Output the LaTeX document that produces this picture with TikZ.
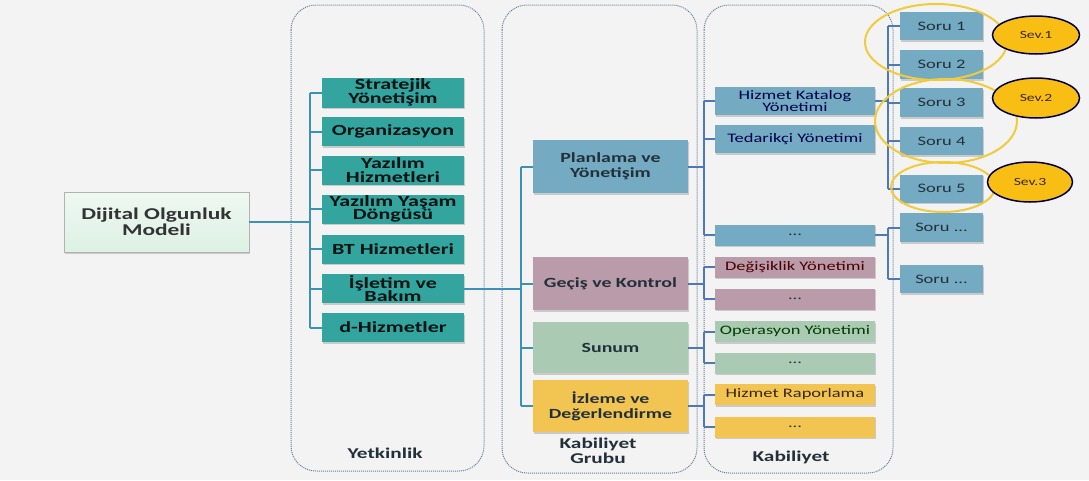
\documentclass[tikz,border=0pt]{standalone}
\usepackage{fontspec}
\setmainfont{Carlito}[FakeStretch=1.42]
\usetikzlibrary{shapes.geometric,shadows}
\definecolor{bgc}{HTML}{F3F3F3}
\definecolor{teal1}{HTML}{33A59E}
\definecolor{blue1}{HTML}{74AAC2}
\definecolor{mauve1}{HTML}{B99BAA}
\definecolor{green1}{HTML}{AACAB3}
\definecolor{gold1}{HTML}{F2C552}
\definecolor{conn1}{HTML}{3C92B6}
\definecolor{conn2}{HTML}{4E78B6}
\definecolor{colborder}{HTML}{6A7A98}
\definecolor{ring}{HTML}{F0CB3C}
\definecolor{sevfill}{HTML}{F8BE14}
\definecolor{txt}{HTML}{22303A}
\definecolor{mint}{HTML}{DDF1E4}
\begin{document}
\begin{tikzpicture}[x=1pt,y=-1pt,
  column/.style={draw=colborder,line width=1pt,dash pattern=on 1pt off 1pt,rounded corners=25pt},
  basebox/.style={rectangle,draw=none,inner sep=1pt,align=center,text=txt,
    drop shadow={shadow xshift=1.2pt,shadow yshift=-1.5pt,opacity=0.35}},
  tealbox/.style={basebox,fill=teal1,minimum width=142pt,minimum height=29pt,
    font=\bfseries\fontsize{15.5}{13.5}\selectfont,text=black!85!teal},
  grpbox/.style={basebox,fill=#1,minimum width=155pt,minimum height=53pt,
    font=\bfseries\fontsize{14}{15}\selectfont},
  capbox/.style={basebox,fill=#1,minimum width=160pt,minimum height=21pt,
    font=\fontsize{13}{12}\selectfont},
  sorubox/.style={basebox,fill=blue1,minimum width=83pt,minimum height=28pt,
    font=\fontsize{13}{12}\selectfont},
  conna/.style={draw=conn1,line width=2pt},
  connb/.style={draw=conn2,line width=2pt},
  lbl/.style={font=\bfseries\fontsize{15}{15}\selectfont,text=txt,align=center},
  ringst/.style={draw=ring,line width=2pt},
  sev/.style={ellipse,draw=black!75!blue,line width=1.5pt,fill=sevfill,
    minimum width=87pt,minimum height=38pt,inner sep=0pt,
    font=\fontsize{11}{11}\selectfont,text=black!70!brown}
]
\useasboundingbox (0,0) rectangle (1089,480);
\fill[bgc] (0,0) rectangle (1089,480);

% columns
\draw[column] (291,5) rectangle (484,471);
\draw[column] (502,5) rectangle (697,473);
\draw[column] (704,5) rectangle (893,473);

% column labels
\node[lbl] (lyet) at (385,453) {Yetkinlik};
\node[lbl] (lgrp) at (598,451) {Kabiliyet\\Grubu};
\node[lbl] (lkab) at (791,457) {Kabiliyet};

% root
\node[basebox,draw=black!30,top color=mint!50!white,bottom color=mint,minimum width=185pt,minimum height=60pt,
  font=\bfseries\fontsize{16.5}{16}\selectfont,text=black!80] (dom) at (156.5,222) {Dijital Olgunluk\\Modeli};

% Yetkinlik
\node[tealbox] (strat) at (393,92.5) {Stratejik\\Yönetişim};
\node[tealbox] (org) at (393,131.5) {Organizasyon};
\node[tealbox] (yh) at (393,170) {Yazılım\\Hizmetleri};
\node[tealbox] (yyd) at (393,209) {Yazılım Yaşam\\Döngüsü};
\node[tealbox] (bt) at (393,249) {BT Hizmetleri};
\node[tealbox] (isl) at (393,288.5) {İşletim ve\\Bakım};
\node[tealbox] (dh) at (393,327.5) {d-Hizmetler};

% Kabiliyet grubu
\node[grpbox=blue1] (plan) at (610.5,166.5) {Planlama ve\\Yönetişim};
\node[grpbox=mauve1] (gec) at (610.5,283.5) {Geçiş ve Kontrol};
\node[grpbox=green1,minimum height=51pt] (sun) at (610.5,347.5) {Sunum};
\node[grpbox=gold1,minimum height=52pt] (izl) at (610.5,406) {İzleme ve\\Değerlendirme};

% Kabiliyet
\node[capbox=blue1,minimum height=28pt,text=black!70!blue] (hk) at (795,101) {Hizmet Katalog\\Yönetimi};
\node[capbox=blue1,minimum height=28pt,text=black!70!blue] (ted) at (795,139) {Tedarikçi Yönetimi};
\node[capbox=blue1] (bd) at (795,235) {...};
\node[capbox=mauve1,text=black!70!red] (deg) at (795,267) {Değişiklik Yönetimi};
\node[capbox=mauve1] (md) at (795,299) {...};
\node[capbox=green1,text=black!75!green] (ops) at (795,331.5) {Operasyon Yönetimi};
\node[capbox=green1] (gd) at (795,363) {...};
\node[capbox=gold1,text=black!70!brown] (hr) at (795,394.5) {Hizmet Raporlama};
\node[capbox=gold1] (yd) at (795,427) {...};

% Sorular
\node[sorubox] (s1) at (941.5,26) {Soru 1};
\node[sorubox,minimum height=29pt] (s2) at (941.5,64.5) {Soru 2};
\node[sorubox,minimum height=29pt] (s3) at (941.5,102.5) {Soru 3};
\node[sorubox] (s4) at (941.5,141) {Soru 4};
\node[sorubox] (s5) at (941.5,188.5) {Soru 5};
\node[sorubox,minimum height=29pt] (sd1) at (941.5,227.5) {Soru ...};
\node[sorubox] (sd2) at (941.5,279) {Soru ...};

% trunk coordinates
\coordinate (t1) at (310,0);
\coordinate (t2) at (521,0);
\coordinate (t3) at (704,0);
\coordinate (t4) at (888,0);

% connectors level 1
\draw[conna] (dom.east) -- (dom.east -| t1);
\draw[conna] (strat.west -| t1) -- (dh.west -| t1);
\foreach \n in {strat,org,yh,yyd,bt,isl,dh}{\draw[conna] (\n.west) -- (\n.west -| t1);}

% level 2
\draw[conna] (isl.east) -- (isl.east -| t2);
\draw[conna] (plan.west -| t2) -- (izl.west -| t2);
\foreach \n in {plan,gec,sun,izl}{\draw[conna] (\n.west) -- (\n.west -| t2);}

% level 3
\draw[connb] (plan.east) -- (plan.east -| t3);
\draw[connb] (hk.west -| t3) -- (bd.west -| t3);
\foreach \n in {hk,ted,bd}{\draw[connb] (\n.west) -- (\n.west -| t3);}
\draw[connb] (gec.east) -- (gec.east -| t3);
\draw[connb] (deg.west -| t3) -- (md.west -| t3);
\foreach \n in {deg,md}{\draw[connb] (\n.west) -- (\n.west -| t3);}
\draw[connb] (sun.east) -- (sun.east -| t3);
\draw[connb] (ops.west -| t3) -- (gd.west -| t3);
\foreach \n in {ops,gd}{\draw[connb] (\n.west) -- (\n.west -| t3);}
\draw[connb] (izl.east) -- (izl.east -| t3);
\draw[connb] (hr.west -| t3) -- (yd.west -| t3);
\foreach \n in {hr,yd}{\draw[connb] (\n.west) -- (\n.west -| t3);}

% level 4
\draw[connb] (hk.east) -- (hk.east -| t4);
\draw[connb] (s1.west -| t4) -- (s5.west -| t4);
\foreach \n in {s1,s2,s3,s4,s5}{\draw[connb] (\n.west) -- (\n.west -| t4);}
\draw[connb] (bd.east) -- (bd.east -| t4);
\draw[connb] (sd1.west -| t4) -- (sd2.west -| t4);
\foreach \n in {sd1,sd2}{\draw[connb] (\n.west) -- (\n.west -| t4);}

% rings
\draw[ringst] (936,42) ellipse [x radius=71pt, y radius=38pt];
\draw[ringst] (946,121) ellipse [x radius=71pt, y radius=42pt];
\draw[ringst] (943,187) ellipse [x radius=52pt, y radius=25pt];

% levels
\node[sev] (sev1) at (1036,35) {Sev.1};
\node[sev,minimum height=40pt] (sev2) at (1036,98) {Sev.2};
\node[sev,minimum width=85pt,minimum height=40pt] (sev3) at (1030,182) {Sev.3};
\end{tikzpicture}
\end{document}
